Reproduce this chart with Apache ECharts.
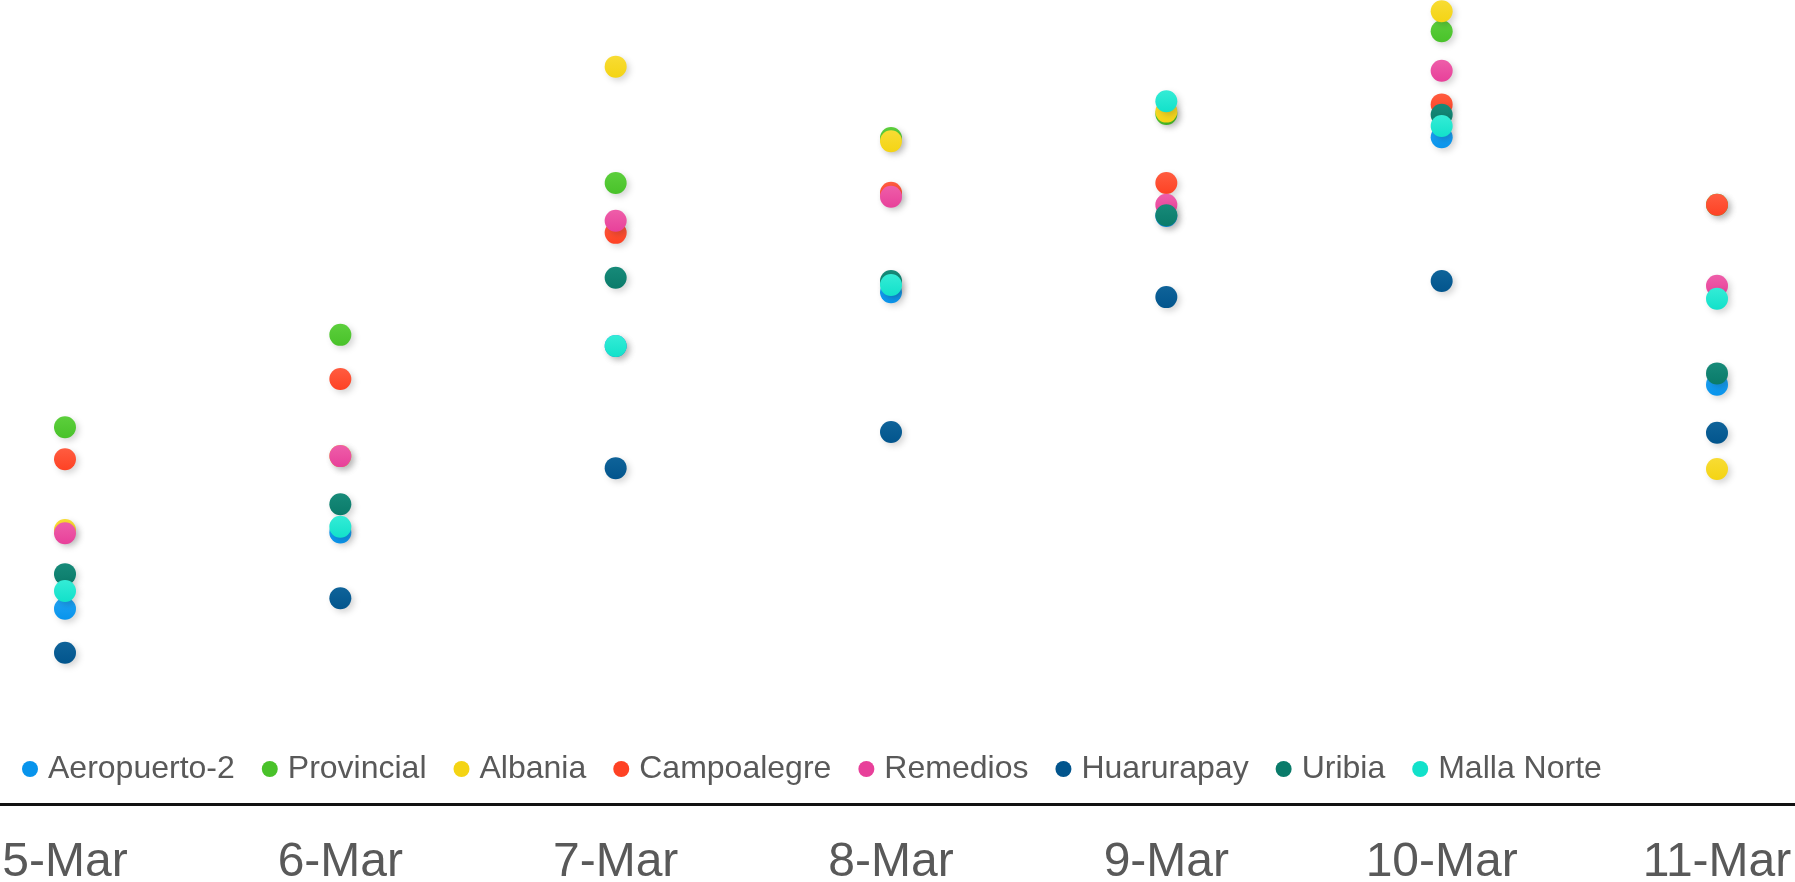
<!DOCTYPE html>
<html>
<head>
<meta charset="utf-8">
<script src="https://cdn.jsdelivr.net/npm/echarts@6/dist/echarts.min.js"></script>
<style>
html,body{margin:0;padding:0;background:#fff;}
#chart{width:1795px;height:882px;}
</style>
</head>
<body>
<div id="chart"></div>
<script>
const categories = ['5-Mar', '6-Mar', '7-Mar', '8-Mar', '9-Mar', '10-Mar', '11-Mar'];

const aeropuerto2 = [24.2, 33.7, 56.9, 63.6, 73.1, 82.9, 52.1];
const provincial  = [46.8, 58.3, 77.2, 82.8, 85.8, 96.1, 74.5];
const albania     = [34.0, 43.2, 91.7, 82.4, 86.1, 98.6, 41.6];
const campoalegre = [42.8, 52.8, 71.0, 76.0, 77.2, 87.0, 74.5];
const remedios    = [33.6, 43.2, 72.5, 75.5, 74.5, 91.2, 64.4];
const huarurapay  = [18.7, 25.5, 41.7, 46.2, 63.0, 65.0, 46.1];
const uribia      = [28.5, 37.2, 65.4, 65.0, 73.2, 85.7, 53.5];
const mallaNorte  = [26.4, 34.4, 56.9, 64.5, 87.4, 84.3, 62.8];

const seriesNames = ['Aeropuerto-2', 'Provincial', 'Albania', 'Campoalegre', 'Remedios', 'Huarurapay', 'Uribia', 'Malla Norte'];
const seriesData = [aeropuerto2, provincial, albania, campoalegre, remedios, huarurapay, uribia, mallaNorte];
const palette = ['#0894ec', '#49c22a', '#f4d414', '#fe4224', '#e8409a', '#02558d', '#0a7b6a', '#12e1ca'];
const paletteTop = ['#22a4f4', '#5ccf3c', '#f8dc34', '#ff5c40', '#ee5ea9', '#0f6399', '#178a79', '#34ecd6'];

const chart = echarts.init(document.getElementById('chart'));

const series = seriesNames.map((name, i) => ({
  name: name,
  type: 'scatter',
  xAxisIndex: 0,
  yAxisIndex: 0,
  data: seriesData[i],
  symbol: 'circle',
  symbolSize: 22,
  clip: false,
  itemStyle: {
    opacity: 1,
    color: new echarts.graphic.LinearGradient(0, 0, 0, 1, [
      { offset: 0, color: paletteTop[i] },
      { offset: 1, color: palette[i] }
    ]),
    shadowBlur: 6,
    shadowOffsetX: 3,
    shadowOffsetY: 3,
    shadowColor: 'rgba(0,0,0,0.16)'
  }
}));

chart.setOption({
  animation: false,
  backgroundColor: '#ffffff',
  color: palette,
  grid: [
    { left: 65, right: 78, top: 0, bottom: 79, containLabel: false, outerBoundsMode: 'none' },
    { left: 0, right: 0, top: 0, bottom: 78, containLabel: false, outerBoundsMode: 'none' }
  ],
  legend: {
    data: seriesNames.map((n, i) => ({ name: n, itemStyle: { color: palette[i], opacity: 1, shadowBlur: 0, shadowOffsetX: 0, shadowOffsetY: 0 } })),
    left: 22,
    top: 753,
    padding: 0,
    icon: 'circle',
    itemWidth: 26,
    itemHeight: 16,
    itemGap: 27,
    textStyle: {
      fontFamily: 'Liberation Sans, Arial, sans-serif',
      fontSize: 32,
      color: '#595959'
    }
  },
  xAxis: [
    {
      type: 'category',
      gridIndex: 0,
      data: categories,
      boundaryGap: false,
      axisLine: { show: false },
      axisTick: { show: false },
      splitLine: { show: false },
      axisLabel: {
        interval: 0,
        margin: 36,
        fontFamily: 'Liberation Sans, Arial, sans-serif',
        fontSize: 48,
        color: '#595959'
      }
    },
    {
      type: 'value',
      gridIndex: 1,
      min: 0,
      max: 1,
      axisLine: { show: true, lineStyle: { color: '#111111', width: 3 } },
      axisTick: { show: false },
      axisLabel: { show: false },
      splitLine: { show: false }
    }
  ],
  yAxis: [
    { type: 'value', gridIndex: 0, min: 0, max: 100, show: false, splitLine: { show: false } },
    { type: 'value', gridIndex: 1, min: 0, max: 1, show: false, splitLine: { show: false } }
  ],
  series: series
});
</script>
</body>
</html>
